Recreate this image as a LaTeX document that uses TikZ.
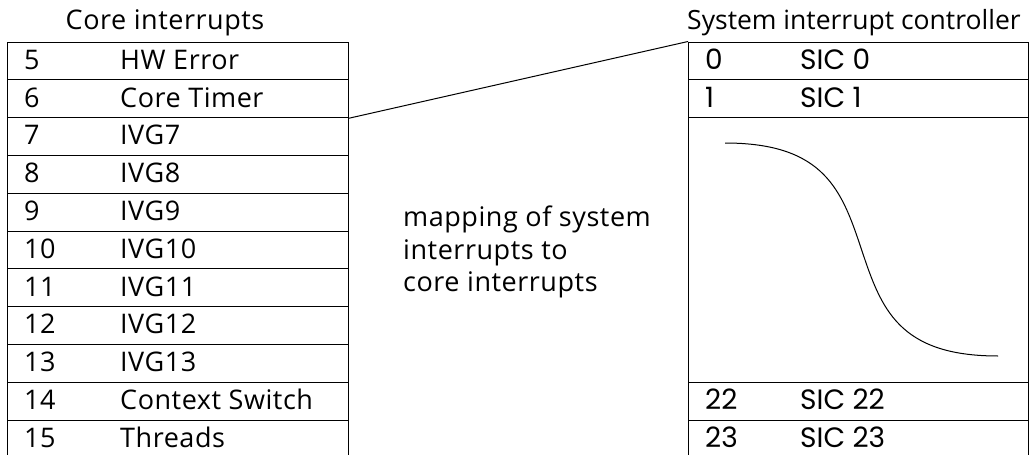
\documentclass[tikz,border=0pt]{standalone}
\usepackage{fontspec}
\setmainfont{Open Sans}[LetterSpace=2]
\newfontfamily\tightfont{Open Sans}
\newfontfamily\sicfont{Poppins}
\begin{document}
\begin{tikzpicture}[x=1pt,y=-1pt,
  every node/.style={inner sep=0pt, font=\fontsize{27}{32.5}\selectfont},
  cell/.style={draw, line width=1.1pt, anchor=north west, minimum width=341pt, minimum height=37.8pt},
  rcell/.style={cell, minimum width=340pt},
  txt/.style={anchor=base west},
  stxt/.style={anchor=base west, font=\fontsize{28}{32.5}\sicfont},
  wire/.style={line width=1pt}]
\useasboundingbox (0,0) rectangle (1029,455);
\clip (0,0) rectangle (1029,455);

% titles
\node[txt] (ltitle) at (65.5,30) {Core interrupts};
\node[txt, font=\fontsize{26.5}{32.5}\tightfont] (rtitle) at (687,30) {System interrupt controller};

% core interrupt table
\foreach \k/\n/\lbl in {0/5/HW Error,1/6/Core Timer,2/7/IVG7,3/8/IVG8,4/9/IVG9,
  5/10/IVG10,6/11/IVG11,7/12/IVG12,8/13/IVG13,9/14/Context Switch,10/15/Threads}{
  \node[cell] (L\n) at (7,41.5+37.8*\k) {};
  \node[txt] (Ln\n) at (24,69.3+37.8*\k) {\n};
  \node[txt] (Ll\n) at (120,69.3+37.8*\k) {\lbl};
}

% system interrupt controller table
\node[rcell] (R0) at (688,41.5) {};
\node[stxt] (Rn0) at (705,69.3) {0};
\node[stxt] (Rl0) at (800,69.3) {SIC 0};
\node[rcell] (R1) at (688,79.3) {};
\node[stxt] (Rn1) at (705,107.1) {1};
\node[stxt] (Rl1) at (800,107.1) {SIC 1};
\node[rcell, minimum height=264.6pt] (Rgap) at (688,117.1) {};
\node[rcell] (R22) at (688,381.7) {};
\node[stxt] (Rn22) at (705,409.5) {22};
\node[stxt] (Rl22) at (800,409.5) {SIC 22};
\node[rcell] (R23) at (688,419.5) {};
\node[stxt] (Rn23) at (705,447) {23};
\node[stxt] (Rl23) at (800,447) {SIC 23};

% mapping description
\node[anchor=north west, align=left] (map) at (403,206) {mapping of system\\interrupts to\\core interrupts};

% link between the two tables
\draw[wire] (L6.south east) -- (R0.north west);

% sigmoid inside the gap of the controller table
\coordinate (s0) at (725,143);
\coordinate (sm) at (861.5,249.5);
\coordinate (s1) at (998,356);
\draw[wire] (s0) .. controls (825,143) and (842,191) .. (sm)
                 .. controls (881,308) and (898,356) .. (s1);
\end{tikzpicture}
\end{document}
